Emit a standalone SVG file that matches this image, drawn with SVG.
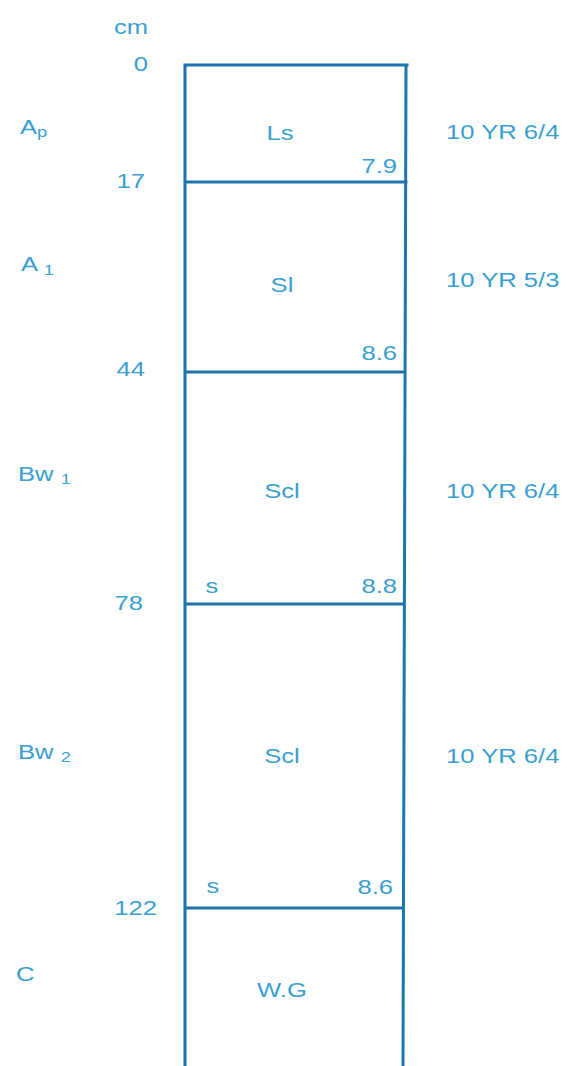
<svg xmlns="http://www.w3.org/2000/svg" width="567" height="1066" viewBox="0 0 567 1066">
<style>
text{font-family:"Liberation Sans",Arial,sans-serif;font-size:21px;fill:#3a9fcf}
.r{text-anchor:end}
.m{text-anchor:middle}
.sub{font-size:15px}
.ln{stroke:#1f74ae;stroke-width:3;fill:none;stroke-linecap:square}
</style>
<rect width="567" height="1066" fill="#fff"/>
<g id="axis">
<text transform="matrix(1.22 0 0 1 131 34)" class="m">cm</text>
<text transform="matrix(1.22 0 0 1 148 71)" class="r">0</text>
<text transform="matrix(1.22 0 0 1 145 188)" class="r">17</text>
<text transform="matrix(1.22 0 0 1 145 376)" class="r">44</text>
<text transform="matrix(1.22 0 0 1 143 610)" class="r">78</text>
<text transform="matrix(1.22 0 0 1 157 915)" class="r">122</text>
</g>
<g id="profile">
<path class="ln" d="M185,65 L407,65 M185,65 L185,1066 M406,65 L403,1066 M185,182 L406,182 M185,372 L405,372 M185,604 L404,604 M185,908 L403,908"/>
</g>
<g id="horizon-Ap">
<text transform="matrix(1.22 0 0 1 20 134)">A<tspan class="sub" dy="3">p</tspan></text>
<text transform="matrix(1.22 0 0 1 280 140)" class="m">Ls</text>
<text transform="matrix(1.22 0 0 1 397 173)" class="r">7.9</text>
<text transform="matrix(1.22 0 0 1 446 139)">10 YR 6/4</text>
</g>
<g id="horizon-A1">
<text transform="matrix(1.22 0 0 1 21 271)">A <tspan class="sub" dy="4">1</tspan></text>
<text transform="matrix(1.22 0 0 1 282 292)" class="m">Sl</text>
<text transform="matrix(1.22 0 0 1 397 360)" class="r">8.6</text>
<text transform="matrix(1.22 0 0 1 446 287)">10 YR 5/3</text>
</g>
<g id="horizon-Bw1">
<text transform="matrix(1.22 0 0 1 18 481)">Bw <tspan class="sub" dy="3">1</tspan></text>
<text transform="matrix(1.22 0 0 1 282 498)" class="m">Scl</text>
<text transform="matrix(1.22 0 0 1 212 593)" class="m">s</text>
<text transform="matrix(1.22 0 0 1 397 593)" class="r">8.8</text>
<text transform="matrix(1.22 0 0 1 446 498)">10 YR 6/4</text>
</g>
<g id="horizon-Bw2">
<text transform="matrix(1.22 0 0 1 18 759)">Bw <tspan class="sub" dy="3">2</tspan></text>
<text transform="matrix(1.22 0 0 1 282 763)" class="m">Scl</text>
<text transform="matrix(1.22 0 0 1 213 893)" class="m">s</text>
<text transform="matrix(1.22 0 0 1 393 894)" class="r">8.6</text>
<text transform="matrix(1.22 0 0 1 446 763)">10 YR 6/4</text>
</g>
<g id="horizon-C">
<text transform="matrix(1.22 0 0 1 16 981)">C</text>
<text transform="matrix(1.22 0 0 1 282 997)" class="m">W.G</text>
</g>
</svg>
